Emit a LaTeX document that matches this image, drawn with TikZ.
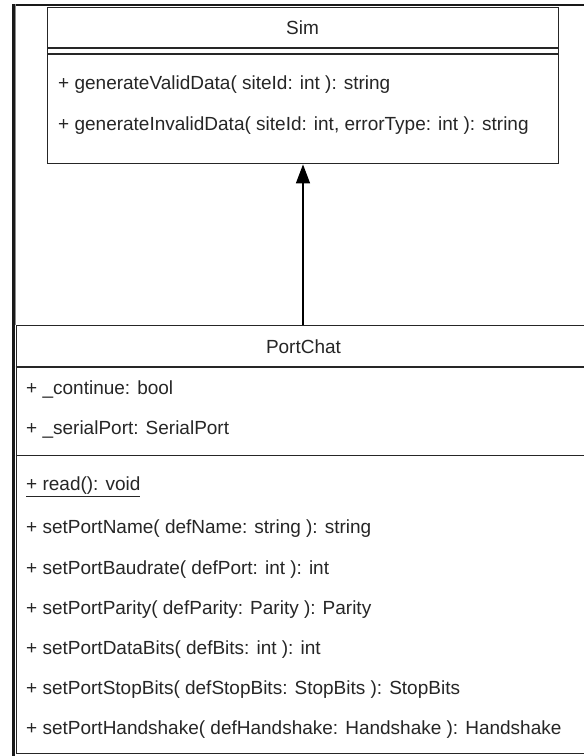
\documentclass[tikz,border=0pt]{standalone}
\usepackage{fontspec}
\setmainfont{Liberation Sans}
\usetikzlibrary{arrows.meta}
\begin{document}
\begin{tikzpicture}[x=1pt,y=-1pt,
  txt/.style={font=\fontsize{19}{22}\selectfont, text=black!85, inner sep=0pt},
  row/.style={txt, anchor=base west},
  ttl/.style={txt, anchor=base},
  box/.style={draw=black!85, line width=1.4pt, inner sep=0pt, fill=white},
  sep/.style={draw=black!85, line width=1.4pt},
  frame/.style={draw=black!90},
  inherit/.style={draw=black, line width=1.4pt, -{Triangle[length=19pt,width=14pt]}},
]
\useasboundingbox (0,0) rectangle (584,756);
\clip (0,0) rectangle (584,756);
\fill[white] (0,0) rectangle (584,756);

% outer frame fragments
\draw[frame, line width=1.5pt] (12,4.75) -- (584,4.75);
\draw[draw=black!45, line width=1pt] (15.5,4) -- (15.5,325);

% Sim class
\node[box, anchor=north west, minimum width=511pt, minimum height=156.5pt] (sim) at (47,6.5) {};
\draw[sep] (sim.west |- 0,48) -- (sim.east |- 0,48);
\draw[sep] (sim.west |- 0,54) -- (sim.east |- 0,54);
\node[ttl] (simtitle) at (302.5,34.5) {Sim};
\node[row] (simm1) at (58,89.5) {+ generateValidData( siteId: int ): string};
\node[row] (simm2) at (58,130.5) {+ generateInvalidData( siteId: int, errorType: int ): string};

% PortChat class
\node[box, anchor=north west, minimum width=576pt, minimum height=427.5pt] (pc) at (15.5,325) {};
\draw[sep] (pc.west |- 0,367) -- (pc.east |- 0,367);
\draw[sep] (pc.west |- 0,455.5) -- (pc.east |- 0,455.5);
\node[ttl] (pctitle) at (303.5,353.5) {PortChat};
\node[row] (pca1) at (26,394.5) {+ \_continue: bool};
\node[row] (pca2) at (26,434.5) {+ \_serialPort: SerialPort};
\node[row] (pcm1) at (26,490.5) {\underline{+ read(): void}};
\node[row] (pcm2) at (26,533.5) {+ setPortName( defName: string ): string};
\node[row] (pcm3) at (26,574.5) {+ setPortBaudrate( defPort: int ): int};
\node[row] (pcm4) at (26,614.5) {+ setPortParity( defParity: Parity ): Parity};
\node[row] (pcm5) at (26,654.5) {+ setPortDataBits( defBits: int ): int};
\node[row] (pcm6) at (26,694.5) {+ setPortStopBits( defStopBits: StopBits ): StopBits};
\node[row] (pcm7) at (26,734.5) {+ setPortHandshake( defHandshake: Handshake ): Handshake};

% thick left frame line
\draw[frame, line width=3pt] (13.5,4) -- (13.5,756);

% generalization arrow
\draw[inherit] (pc.north -| 303,0) -- (sim.south -| 303,0);
\end{tikzpicture}
\end{document}
